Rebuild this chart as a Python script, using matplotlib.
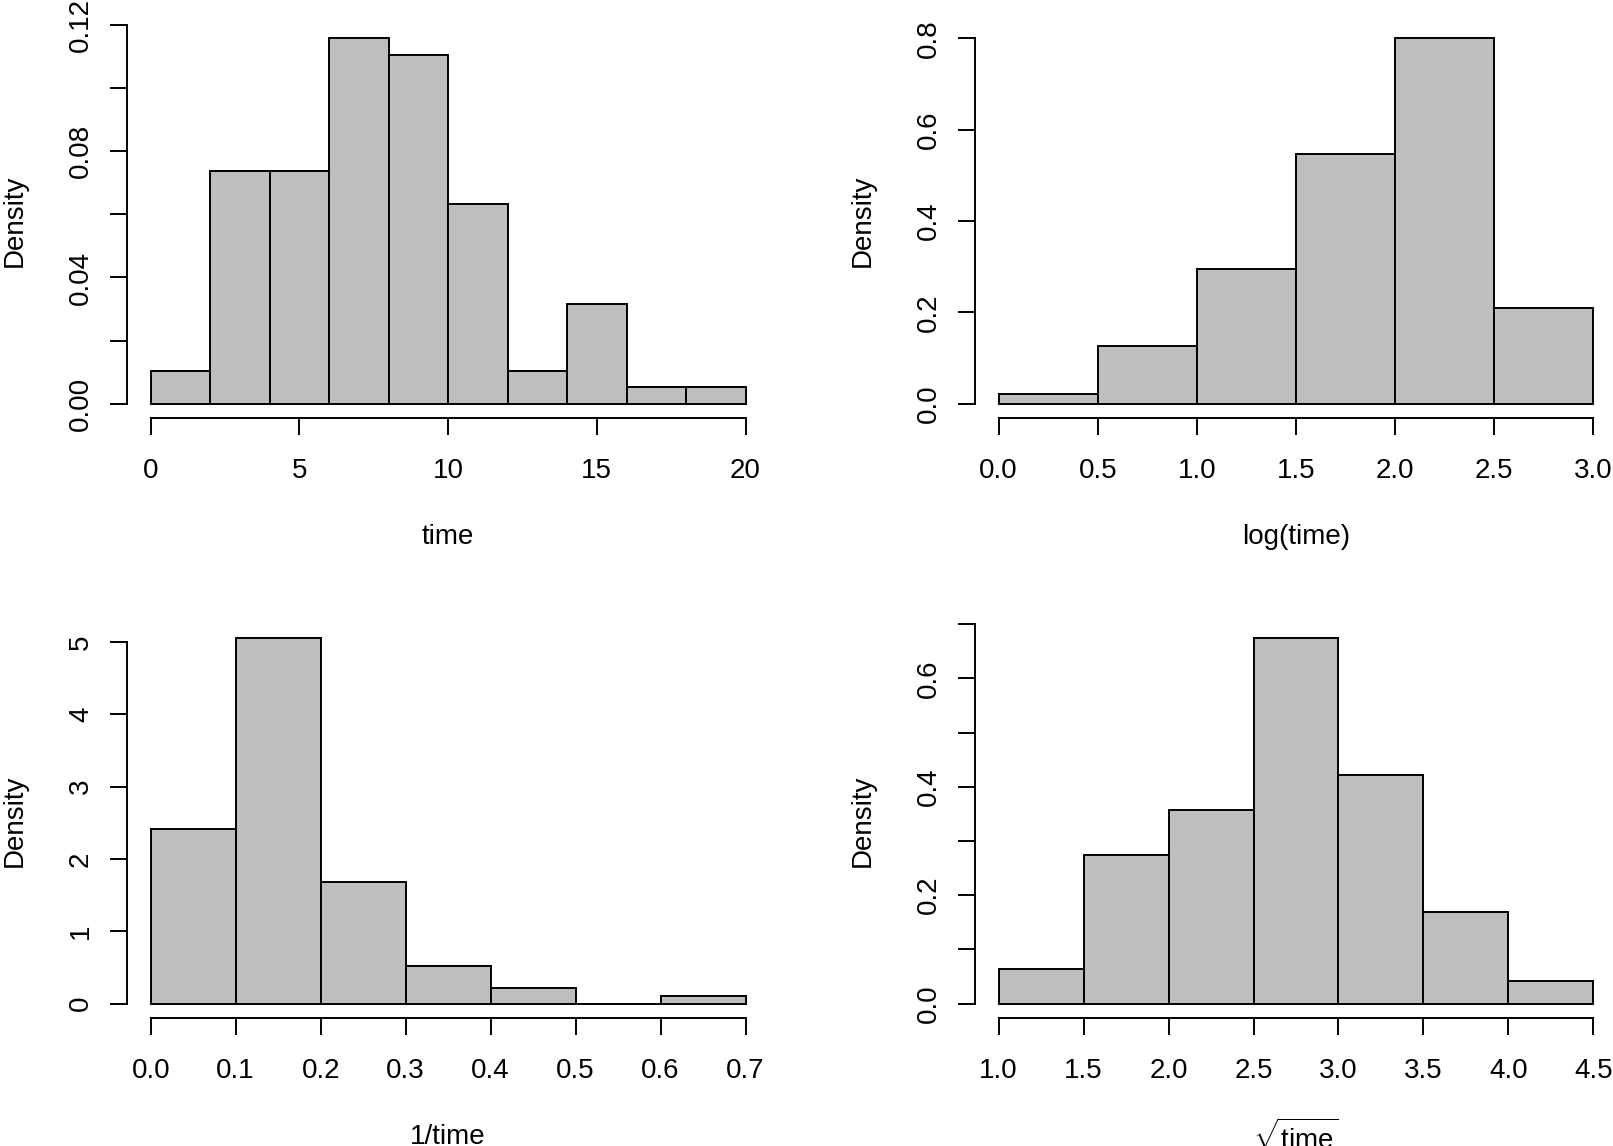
import matplotlib
matplotlib.use("Agg")
import matplotlib.pyplot as plt
import numpy as np

plt.rcParams['font.family'] = ['Liberation Sans', 'DejaVu Sans']
plt.rcParams['mathtext.fontset'] = 'custom'
plt.rcParams['mathtext.rm'] = 'Liberation Sans'
plt.rcParams['mathtext.it'] = 'Liberation Sans:italic'

# ---------------- data (densities) ----------------
time_breaks = [0, 2, 4, 6, 8, 10, 12, 14, 16, 18, 20]
time_density = [0.0105, 0.0737, 0.0737, 0.1158, 0.1105, 0.0632, 0.0105, 0.0316, 0.0053, 0.0053]
time_xticks = [0, 5, 10, 15, 20]
time_xlabels = ["0", "5", "10", "15", "20"]
time_yticks = [0.00, 0.02, 0.04, 0.06, 0.08, 0.10, 0.12]
time_ylabels = ["0.00", "", "0.04", "", "0.08", "", "0.12"]

log_breaks = [0.0, 0.5, 1.0, 1.5, 2.0, 2.5, 3.0]
log_density = [0.0211, 0.1263, 0.2947, 0.5474, 0.8000, 0.2105]
log_xticks = [0.0, 0.5, 1.0, 1.5, 2.0, 2.5, 3.0]
log_xlabels = ["0.0", "0.5", "1.0", "1.5", "2.0", "2.5", "3.0"]
log_yticks = [0.0, 0.2, 0.4, 0.6, 0.8]
log_ylabels = ["0.0", "0.2", "0.4", "0.6", "0.8"]

inv_breaks = [0.0, 0.1, 0.2, 0.3, 0.4, 0.5, 0.6, 0.7]
inv_density = [2.4211, 5.0526, 1.6842, 0.5263, 0.2105, 0.0, 0.1053]
inv_xticks = [0.0, 0.1, 0.2, 0.3, 0.4, 0.5, 0.6, 0.7]
inv_xlabels = ["0.0", "0.1", "0.2", "0.3", "0.4", "0.5", "0.6", "0.7"]
inv_yticks = [0, 1, 2, 3, 4, 5]
inv_ylabels = ["0", "1", "2", "3", "4", "5"]

sqrt_breaks = [1.0, 1.5, 2.0, 2.5, 3.0, 3.5, 4.0, 4.5]
sqrt_density = [0.0632, 0.2737, 0.3579, 0.6737, 0.4211, 0.1684, 0.0421]
sqrt_xticks = [1.0, 1.5, 2.0, 2.5, 3.0, 3.5, 4.0, 4.5]
sqrt_xlabels = ["1.0", "1.5", "2.0", "2.5", "3.0", "3.5", "4.0", "4.5"]
sqrt_yticks = [0.0, 0.1, 0.2, 0.3, 0.4, 0.5, 0.6, 0.7]
sqrt_ylabels = ["0.0", "", "0.2", "", "0.4", "", "0.6", ""]

panels = [
    (time_breaks, time_density, time_xticks, time_xlabels, time_yticks, time_ylabels, "time"),
    (log_breaks, log_density, log_xticks, log_xlabels, log_yticks, log_ylabels, "log(time)"),
    (inv_breaks, inv_density, inv_xticks, inv_xlabels, inv_yticks, inv_ylabels, "1/time"),
    (sqrt_breaks, sqrt_density, sqrt_xticks, sqrt_xlabels, sqrt_yticks, sqrt_ylabels, r"$\sqrt{\mathrm{time}}$"),
]

# ---------------- layout ----------------
W, H = 1613, 1146
fig = plt.figure(figsize=(W / 100, H / 100), dpi=100)

ax_w = 642.4
ax_h = 394.6
lefts = [126.9, 974.8]
bottoms_px = [418.3, 1018.3]  # bottom edge, measured from top

XLAB_OFF = 118.7   # px below axes bottom (label centre)
YLAB_OFF = 112.3   # px left of axes left (label centre)

LW = 1.4
FS = 20
FILL = "#BEBEBE"

for i, (breaks, dens, xt, xl, yt, yl, xlab) in enumerate(panels):
    col = i % 2
    row = i // 2
    l = lefts[col] / W
    b = (H - bottoms_px[row]) / H
    ax = fig.add_axes([l, b, ax_w / W, ax_h / H])

    breaks = np.asarray(breaks)
    widths = np.diff(breaks)
    ax.bar(breaks[:-1], dens, width=widths, align="edge",
           color=FILL, edgecolor="black", linewidth=LW)

    x0, x1 = breaks[0], breaks[-1]
    xr = x1 - x0
    ymax = max(dens)
    ax.set_xlim(x0 - 0.04 * xr, x1 + 0.04 * xr)
    ax.set_ylim(-0.04 * ymax, 1.04 * ymax)

    for s in ["top", "right"]:
        ax.spines[s].set_visible(False)
    for s in ["left", "bottom"]:
        ax.spines[s].set_linewidth(LW)
    ax.spines["bottom"].set_bounds(xt[0], xt[-1])
    ax.spines["left"].set_bounds(yt[0], yt[-1])

    ax.set_xticks(xt)
    ax.set_xticklabels(xl)
    ax.set_yticks(yt)
    ax.set_yticklabels(yl, rotation=90, va="center")

    ax.tick_params(axis="x", direction="out", length=12.2, width=LW,
                   labelsize=FS, pad=16.5)
    ax.tick_params(axis="y", direction="out", length=12.2, width=LW,
                   labelsize=FS, pad=11.5)

    ax.set_xlabel(xlab, fontsize=FS)
    ax.xaxis.label.set_va("center")
    ax.xaxis.set_label_coords(0.5, -XLAB_OFF / ax_h)
    ax.set_ylabel("Density", fontsize=FS)
    ax.yaxis.label.set_va("center")
    ax.yaxis.label.set_ha("center")
    ax.yaxis.set_label_coords(-YLAB_OFF / ax_w, 0.5)

fig.savefig("out.png", dpi=100)
